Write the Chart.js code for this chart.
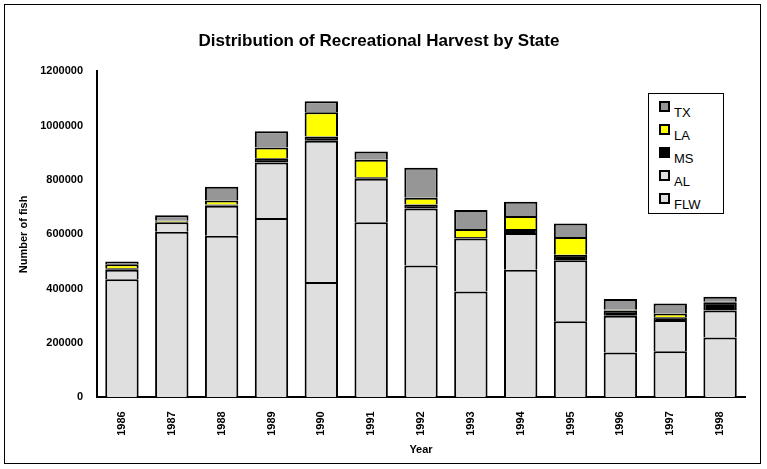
<!DOCTYPE html>
<html><head><meta charset="utf-8">
<script src="https://cdn.jsdelivr.net/npm/chart.js@4"></script>
<style>
body{margin:0;background:#fff;font-family:"Liberation Sans",Arial,sans-serif}
#wrap{position:absolute;left:4px;top:4px;width:757px;height:460px;border:1px solid #000;box-sizing:border-box}
#leg{position:absolute;left:648px;top:93px;width:76px;height:121px;border:1px solid #000;background:#fff;box-sizing:border-box;font-size:13px}
.it{position:absolute;left:10px;height:16px}
.sw{position:absolute;left:0;top:0;width:7px;height:7px;border:2px solid #000}
.tx{position:absolute;left:15px;top:4px}
</style></head><body>
<div id="wrap"><canvas id="c" width="757" height="460"></canvas></div>
<div id="leg"></div>
<script>
const years=["1986","1987","1988","1989","1990","1991","1992","1993","1994","1995","1996","1997","1998"];
const FLW=[435000,610000,595000,660000,425000,645000,485000,390000,470000,280000,165000,170000,220000];
const AL=[35000,35000,110000,205000,520000,160000,210000,195000,135000,225000,135000,115000,100000];
const MS=[5000,1000,5000,15000,15000,5000,15000,5000,15000,20000,20000,10000,30000];
const LA=[15000,4000,15000,40000,90000,65000,25000,30000,48000,65000,2000,13000,2000];
const TX=[10000,20000,50000,60000,40000,30000,110000,70000,52000,50000,40000,37000,18000];
const series=[["FLW",FLW,"#dfdfdf"],["AL",AL,"#dfdfdf"],["MS",MS,"#000000"],["LA",LA,"#ffff00"],["TX",TX,"#969696"]];
new Chart(document.getElementById('c'),{type:'bar',
data:{labels:years,datasets:series.map(s=>({label:s[0],data:s[1],backgroundColor:s[2],borderColor:'#000',borderWidth:2,barPercentage:0.67,categoryPercentage:1}))},
options:{responsive:false,animation:false,devicePixelRatio:1,
layout:{padding:{left:8,right:17,top:0,bottom:8}},
plugins:{legend:{display:false},title:{display:true,text:'Distribution of Recreational Harvest by State',color:'#000',font:{family:'Liberation Sans',size:17,weight:'bold'},padding:{top:26,bottom:20}}},
scales:{x:{stacked:true,grid:{display:false,drawTicks:true},border:{color:'#000',width:2},ticks:{color:'#000',padding:6,maxRotation:90,minRotation:90,font:{family:'Liberation Sans',size:11,weight:'bold'}},title:{display:true,text:'Year',color:'#000',font:{family:'Liberation Sans',size:11,weight:'bold'},padding:{top:2,bottom:0}}},
y:{stacked:true,min:0,max:1200000,grid:{display:false},border:{color:'#000',width:2},ticks:{stepSize:200000,color:'#000',padding:6,callback:v=>String(v),font:{family:'Liberation Sans',size:11,weight:'bold'}},title:{display:true,text:'Number of fish',color:'#000',font:{family:'Liberation Sans',size:11,weight:'bold'}}}}}});
const leg=document.getElementById('leg');
series.slice().reverse().forEach((s,i)=>{const d=document.createElement('div');d.className='it';d.style.top=(7+i*23)+'px';d.innerHTML='<div class="sw" style="background:'+s[2]+'"></div><div class="tx">'+s[0]+'</div>';leg.appendChild(d);});
</script></body></html>
